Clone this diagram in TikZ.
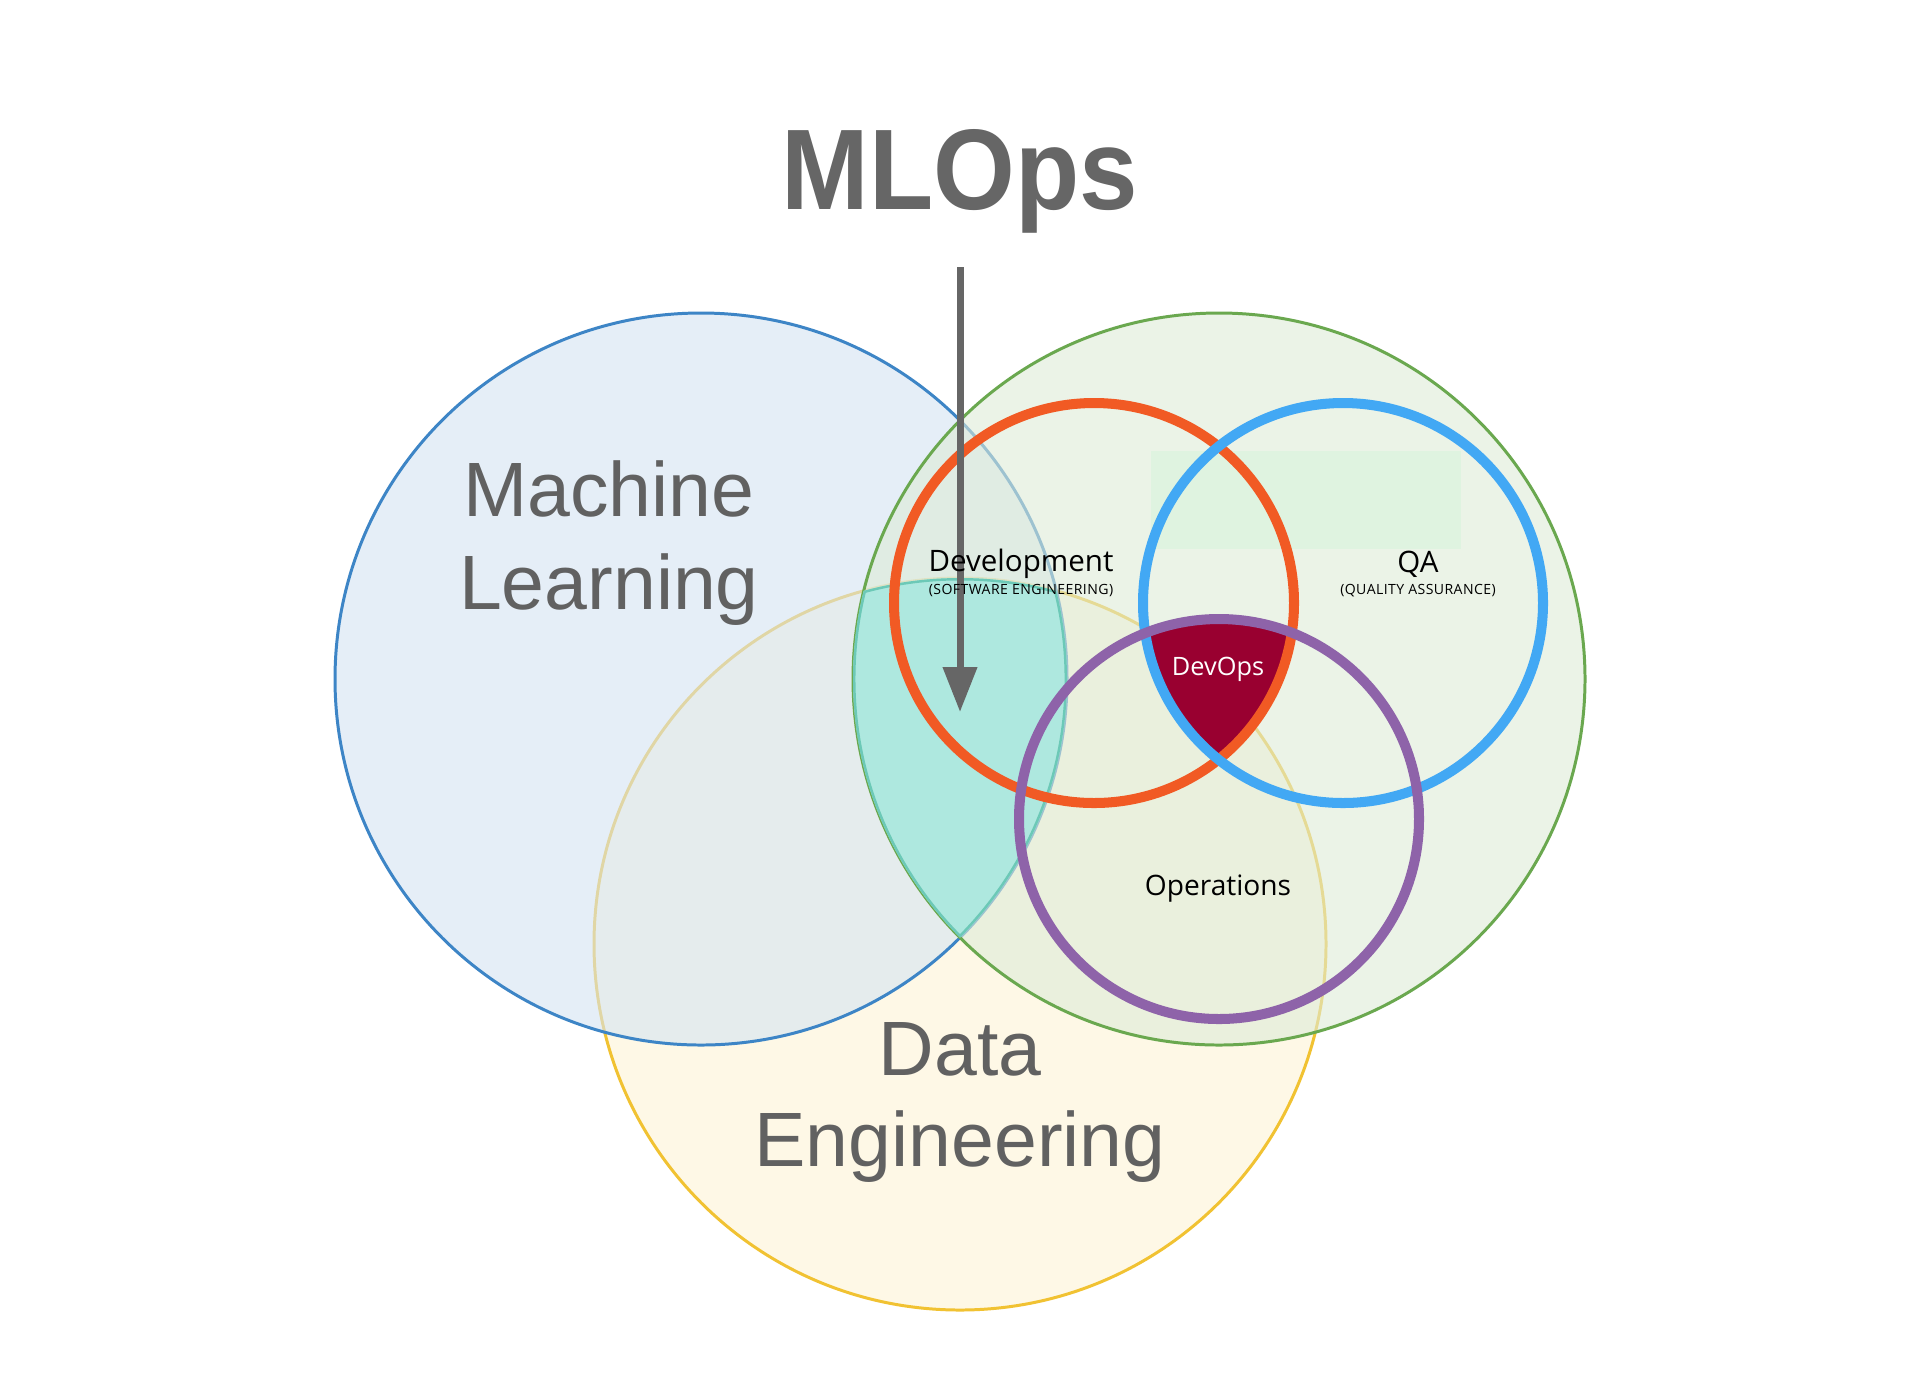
\documentclass[tikz,border=0pt]{standalone}
\usepackage{fontspec}
\setmainfont{Open Sans}
\newfontfamily\bigfont{Liberation Sans}
\newfontfamily\capsfont[LetterSpace=3]{Open Sans}
\usetikzlibrary{arrows.meta}

\definecolor{mlblue}{HTML}{3D85C6}
\definecolor{mlfill}{HTML}{D5E4F3}
\definecolor{dvgreen}{HTML}{6AA84F}
\definecolor{dvfill}{HTML}{DEEBD7}
\definecolor{debar}{HTML}{F1C232}
\definecolor{defill}{HTML}{FEF8E6}
\definecolor{tealfill}{HTML}{AEE8DF}
\definecolor{tealline}{HTML}{6CC9B7}
\definecolor{boxgreen}{HTML}{DFF3E0}
\definecolor{devorange}{HTML}{F15A24}
\definecolor{qablue}{HTML}{42A8F4}
\definecolor{oppurple}{HTML}{8E63A9}
\definecolor{devred}{HTML}{990030}
\definecolor{arrowgray}{HTML}{666666}
\definecolor{labelgray}{HTML}{616161}

\begin{document}
\begin{tikzpicture}[x=0.01cm, y=-0.01cm,
    bigring/.style={line width=0.85pt},
    smallring/.style={line width=2.85pt},
    bigtext/.style={text=labelgray, font=\bigfont\fontsize{21.9}{26}\selectfont, anchor=base},
    smalltext/.style={font=\fontsize{8.4}{10}\selectfont, anchor=base},
    tinytext/.style={font=\capsfont\fontsize{4}{5}\selectfont, anchor=base}]
    \fill[white] (0,0) rectangle (1922,1381);
    \useasboundingbox (0,0) rectangle (1922,1381);
    \coordinate (mlc) at (701,679);
    \coordinate (dvc) at (1219,679);
    \coordinate (dec) at (960,944);
    \coordinate (devc) at (1094,603);
    \coordinate (qac) at (1343,603);
    \coordinate (opc) at (1219,819);
    %% big circles
    \draw[bigring, draw=debar, fill=defill] (dec) circle (366);
    \draw[bigring, draw=mlblue, fill=mlfill, fill opacity=0.6] (mlc) circle (366);
    \draw[bigring, draw=dvgreen, fill=dvfill, fill opacity=0.6] (dvc) circle (366);
    %% overlap of all three
    \begin{scope}
      \clip (mlc) circle (366);
      \clip (dvc) circle (366);
      \clip (dec) circle (366);
      \fill[tealfill] (dec) circle (366);
      \draw[tealline, line width=1.4pt] (mlc) circle (366) (dvc) circle (366) (dec) circle (366);
    \end{scope}
    \fill[boxgreen] (1151,451) rectangle (1461,549);
    %% DevOps
    \begin{scope}
      \clip (devc) circle (200);
      \clip (qac) circle (200);
      \fill[devred] (opc) circle (200);
    \end{scope}
    \draw[smallring, draw=devorange] (devc) circle (200);
    \draw[smallring, draw=qablue] (qac) circle (200);
    \draw[smallring, draw=oppurple] (opc) circle (200);
    %% arrow
    \coordinate (arrtop) at (960,267);
    \coordinate (arrtip) at (960,712);
    \draw[line width=2pt, draw=arrowgray, fill=arrowgray,
      -{Triangle[length=12.8pt, width=9.4pt]}] (arrtop) -- (arrtip);
    %% labels
    \node[text=arrowgray, anchor=base, xscale=0.917,
      font=\bigfont\bfseries\fontsize{32.6}{36}\selectfont] (mlops) at (960,209) {MLOps};
    \node[bigtext] (ml1) at (609,516) {Machine};
    \node[bigtext] (ml2) at (609,609) {Learning};
    \node[bigtext] (de1) at (960,1075) {Data};
    \node[bigtext] (de2) at (960,1166) {Engineering};
    \node[smalltext] (dev) at (1021,571) {Development};
    \node[tinytext] (devsub) at (1021,594) {(SOFTWARE ENGINEERING)};
    \node[smalltext] (qa) at (1418,572) {QA};
    \node[tinytext] (qasub) at (1418,594) {(QUALITY ASSURANCE)};
    \node[smalltext, text=white, font=\fontsize{7.2}{9}\selectfont] (devops) at (1218,675) {DevOps};
    \node[smalltext, font=\fontsize{8}{10}\selectfont] (ops) at (1218,895) {Operations};
\end{tikzpicture}
\end{document}
